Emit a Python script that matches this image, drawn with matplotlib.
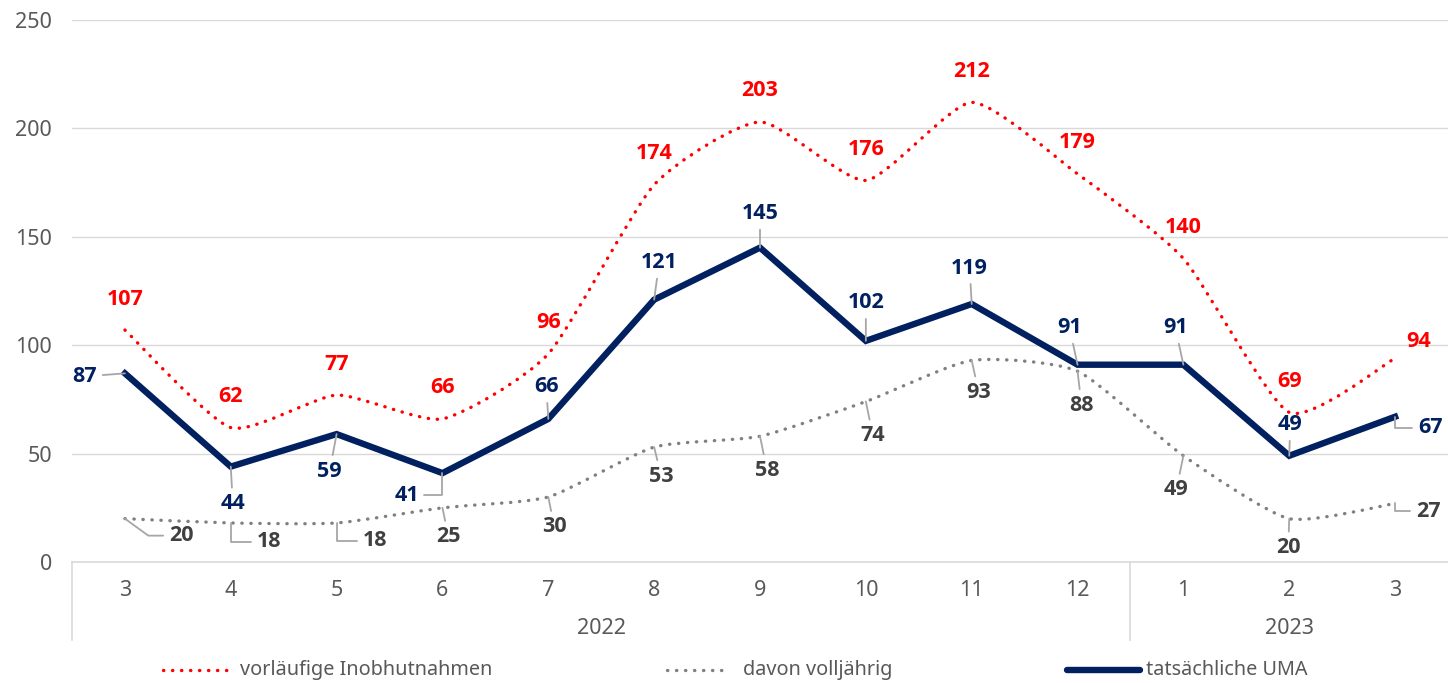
import matplotlib
matplotlib.use('Agg')
import matplotlib.pyplot as plt
from matplotlib.path import Path
from matplotlib.patches import PathPatch
from matplotlib.lines import Line2D
import numpy as np

plt.rcParams['font.family'] = ['Noto Sans', 'DejaVu Sans']
BOLD_FONT = ['Open Sans', 'DejaVu Sans']

# Data
months = ['3', '4', '5', '6', '7', '8', '9', '10', '11', '12', '1', '2', '3']
years = ['2022', '2023']
year_spans = [(0, 9), (10, 12)]
inobhut = [107, 62, 77, 66, 96, 174, 203, 176, 212, 179, 140, 69, 94]
volljaehrig = [20, 18, 18, 25, 30, 53, 58, 74, 93, 88, 49, 20, 27]
uma = [87, 44, 59, 41, 66, 121, 145, 102, 119, 91, 91, 49, 67]
series_names = ['vorläufige Inobhutnahmen', 'davon volljährig', 'tatsächliche UMA']

RED = '#ff0000'
GRAY = '#808080'
NAVY = '#002060'
LEADER = '#a6a6a6'
TXT = '#595959'

# label offsets in pixels (dx, dy) and leader style
red_off = [(0, 31)] * 12 + [(24, 17)]
navy_off = [(-40, -3), (2, -37), (-7, -37), (-36, -22), (-2, 32), (5, 37), (0, 34),
            (0, 38), (-2, 36), (-8, 37), (-8, 37), (1, 31), (35, -11)]
navy_cs = ['arc3', 'arc3', 'arc3', 'elbow', 'arc3', 'arc3', 'arc3',
           'arc3', 'arc3', 'arc3', 'arc3', 'arc3', 'elbow']
gray_off = [(56, -17), (38, -19), (38, -18), (6, -29), (6, -30), (7, -29), (7, -34),
            (7, -34), (7, -32), (4, -34), (-7, -34), (-1, -29), (33, -8)]
gray_cs = ['diag', 'elbow', 'elbow', 'arc3', 'arc3', 'arc3', 'arc3',
           'arc3', 'arc3', 'arc3', 'arc3', 'arc3', 'elbow']
conn = {'arc3': 'arc3',
        'elbow': 'angle,angleA=0,angleB=90,rad=0',
        'diag': 'angle,angleA=0,angleB=-36,rad=0'}


# gentle smoothing like excel's "smoothed line" (bezier through the points)
def smooth_path(xs, ys, k=0.1):
    pts = np.column_stack([xs, ys]).astype(float)
    n = len(pts)
    verts = [pts[0]]
    codes = [Path.MOVETO]
    for i in range(n - 1):
        p0 = pts[i - 1] if i > 0 else pts[i]
        p1 = pts[i]
        p2 = pts[i + 1]
        p3 = pts[i + 2] if i + 2 < n else pts[i + 1]
        verts += [p1 + (p2 - p0) * k, p2 - (p3 - p1) * k, p2]
        codes += [Path.CURVE4] * 3
    return Path(verts, codes)


fig = plt.figure(figsize=(14.48, 6.83), dpi=100)
ax = fig.add_axes([72 / 1448, 121 / 683, 1376 / 1448, 542 / 683])

x = np.arange(len(months))
ax.set_xlim(-0.5, len(months) - 0.5)
ax.set_ylim(0, 250)

# dotted smooth lines
for vals, col in [(inobhut, RED), (volljaehrig, GRAY)]:
    pp = PathPatch(smooth_path(x, vals), fill=False, edgecolor=col, lw=2.4,
                   linestyle=(0, (0.1, 2.6)), capstyle='round', zorder=3)
    ax.add_patch(pp)
ax.plot(x, uma, color=NAVY, lw=4.6, solid_joinstyle='miter', zorder=4)

# data labels
LBL_SIZE = 15.5
for i, v in enumerate(inobhut):
    ax.annotate(str(v), (i, v), xytext=red_off[i], textcoords='offset pixels',
                ha='center', va='center', color=RED, fontsize=LBL_SIZE, fontweight='bold',
                family=BOLD_FONT, zorder=6)
for vals, offs, css, col in [(uma, navy_off, navy_cs, NAVY), (volljaehrig, gray_off, gray_cs, '#404040')]:
    for i, v in enumerate(vals):
        ax.annotate(str(v), (i, v), xytext=offs[i], textcoords='offset pixels',
                    ha='center', va='center', color=col, fontsize=LBL_SIZE, fontweight='bold',
                    family=BOLD_FONT, zorder=6,
                    arrowprops=dict(arrowstyle='-', color=LEADER, lw=1.3, shrinkA=2, shrinkB=0,
                                    connectionstyle=conn[css[i]]))

# axes styling
ax.set_yticks(range(0, 251, 50))
ax.grid(axis='y', color='#d9d9d9', lw=1)
ax.set_axisbelow(True)
for s in ['top', 'right', 'left']:
    ax.spines[s].set_visible(False)
ax.spines['bottom'].set_color('#d9d9d9')
ax.spines['bottom'].set_linewidth(1.2)
ax.tick_params(axis='y', length=0, pad=14.4, labelsize=15.5, labelcolor=TXT)
ax.set_xticks(x)
ax.set_xticklabels(months)
ax.tick_params(axis='x', length=0, pad=13, labelsize=15.5, labelcolor=TXT)

# two-level category axis
xt = ax.get_xaxis_transform()
for yr, (a, b) in zip(years, year_spans):
    ax.text((a + b) / 2, -0.122, yr, transform=xt, ha='center', va='center',
            fontsize=15.5, color=TXT)
for sep in [-0.5, 9.5]:
    ax.plot([sep, sep], [0, -0.144], transform=xt, color='#d9d9d9', lw=1.2, clip_on=False)

# legend
fy = 13 / 683
legend_items = [(RED, (0, (0.1, 2.6)), 2.4, 163, 227, 240),
                (GRAY, (0, (0.1, 2.6)), 2.4, 667, 730, 743),
                (NAVY, '-', 4.6, 1067, 1140, 1146)]
for (col, ls, lw, x0, x1, tx), name in zip(legend_items, series_names):
    fig.add_artist(Line2D([x0 / 1448, x1 / 1448], [fy, fy], color=col, lw=lw, linestyle=ls,
                          dash_capstyle='round', solid_capstyle='round'))
    fig.text(tx / 1448, fy, name, ha='left', va='center', fontsize=14.3, color=TXT)

fig.savefig('out.png', dpi=100)
